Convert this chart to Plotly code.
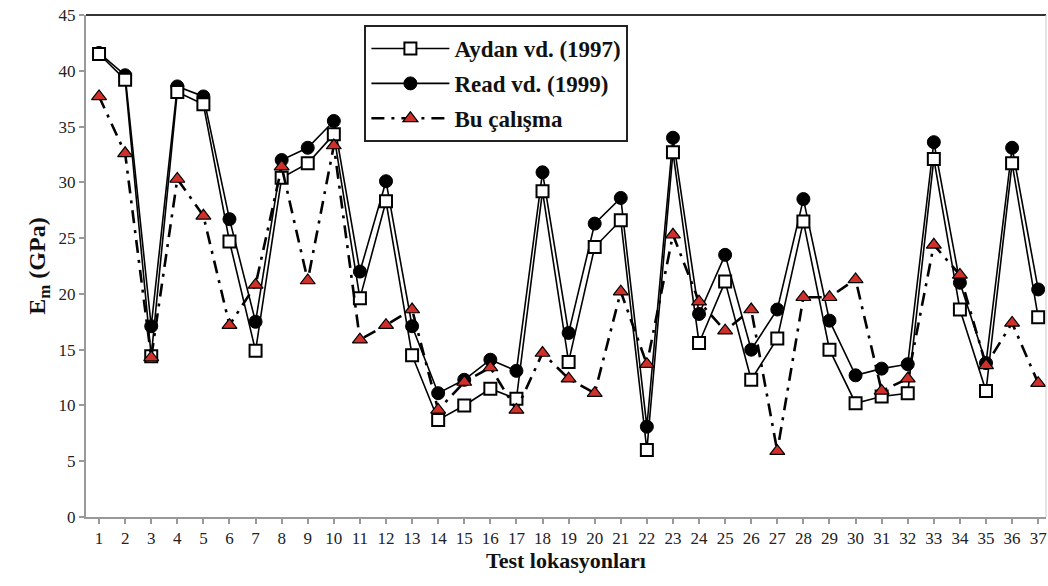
import plotly.graph_objects as go

locations = list(range(1, 38))
tick_labels = [str(i) for i in locations]

aydan = [41.5, 39.2, 14.4, 38.1, 37.0, 24.7, 14.9, 30.4, 31.7, 34.3,
         19.6, 28.3, 14.5, 8.7, 10.0, 11.5, 10.6, 29.2, 13.9, 24.2,
         26.6, 6.0, 32.7, 15.6, 21.1, 12.3, 16.0, 26.5, 15.0, 10.2,
         10.8, 11.1, 32.1, 18.6, 11.3, 31.7, 17.9]

read = [41.6, 39.6, 17.1, 38.6, 37.7, 26.7, 17.5, 32.0, 33.1, 35.5,
        22.0, 30.1, 17.1, 11.1, 12.3, 14.1, 13.1, 30.9, 16.5, 26.3,
        28.6, 8.1, 34.0, 18.2, 23.5, 15.0, 18.6, 28.5, 17.6, 12.7,
        13.3, 13.7, 33.6, 21.0, 13.8, 33.1, 20.4]

bu_calisma = [37.7, 32.6, 14.3, 30.3, 27.0, 17.2, 20.8, 31.4, 21.2, 33.3,
              15.9, 17.2, 18.6, 9.6, 12.1, 13.4, 9.6, 14.7, 12.4, 11.1,
              20.2, 13.7, 25.3, 19.3, 16.7, 18.6, 5.9, 19.7, 19.7, 21.3,
              11.3, 12.4, 24.4, 21.7, 13.6, 17.4, 12.0]

fig = go.Figure()

fig.add_trace(go.Scatter(
    x=locations, y=read, name="Read vd. (1999)", mode="lines+markers",
    line=dict(color="black", width=1.6),
    marker=dict(symbol="circle", size=13, color="black",
                line=dict(color="black", width=1)),
    legendrank=2, legendgroup="b",
))
fig.add_trace(go.Scatter(
    x=locations, y=aydan, name="Aydan vd. (1997)", mode="lines+markers",
    line=dict(color="black", width=1.6),
    marker=dict(symbol="square", size=12, color="white",
                line=dict(color="black", width=2)),
    legendrank=1, legendgroup="a",
))
fig.add_trace(go.Scatter(
    x=locations, y=bu_calisma, name="Bu çalışma", mode="lines+markers",
    line=dict(color="black", width=2.6, dash="13px,7px,3px,7px"),
    marker=dict(symbol="triangle-up", size=13, color="#d0302a",
                line=dict(color="black", width=1.2)),
    legendrank=3, legendgroup="c",
))

fig.update_layout(
    width=1048, height=586,
    margin=dict(l=86, r=2, t=15, b=69),
    paper_bgcolor="white", plot_bgcolor="white",
    font=dict(family="Liberation Serif", color="#222"),
    showlegend=True,
    legend=dict(
        x=0.29, y=0.98, xanchor="left", yanchor="top",
        bgcolor="white", bordercolor="#222", borderwidth=2,
        font=dict(family="Liberation Serif", size=23, color="#111",
                  weight="bold"),
        itemwidth=78,
        tracegroupgap=2,
    ),
    xaxis=dict(
        range=[0.5, 37.3],
        tickmode="array", tickvals=locations, ticktext=tick_labels,
        showgrid=False, zeroline=False,
        showline=True, linecolor="#999", linewidth=2,
        ticks="outside", ticklen=5, tickcolor="#999", tickwidth=1.5,
        tickfont=dict(size=17, family="Liberation Serif", color="#222"),
        title=dict(text="<b>Test lokasyonları</b>", standoff=4,
                   font=dict(size=22, family="Liberation Serif", color="#111")),
    ),
    yaxis=dict(
        range=[0, 45], tickvals=[0, 5, 10, 15, 20, 25, 30, 35, 40, 45],
        showgrid=False, zeroline=False,
        showline=True, linecolor="#999", linewidth=2,
        ticks="outside", ticklen=5, tickcolor="#999", tickwidth=1.5,
        tickfont=dict(size=17, family="Liberation Serif", color="#222"),
        title=dict(text="<b>E<sub>m</sub> (GPa)</b>", standoff=6,
                   font=dict(size=24, family="Liberation Serif", color="#111")),
    ),
    shapes=[
        dict(type="line", xref="paper", yref="paper", x0=0, x1=1, y0=1, y1=1,
             line=dict(color="#333", width=2)),
        dict(type="line", xref="paper", yref="paper", x0=1, x1=1, y0=0, y1=1,
             line=dict(color="#ccc", width=1)),
    ],
)

fig.write_html(
    "out.html",
    config={"displayModeBar": False},
    post_script="document.body.style.margin='0px';document.body.style.overflow='hidden';",
)
